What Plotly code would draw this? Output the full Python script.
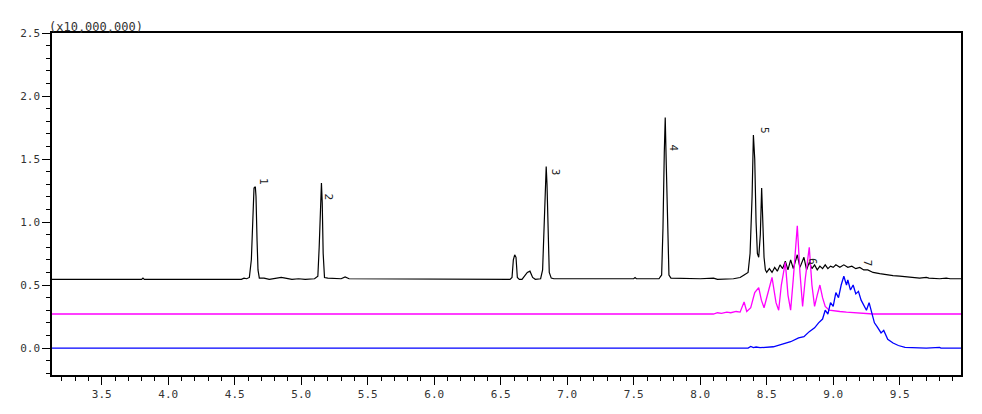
import plotly.graph_objects as go

# ---------------- data ----------------
tic_x = [3.12, 3.80, 3.81, 3.82, 4.55, 4.57, 4.59, 4.61, 4.625, 4.635, 4.645, 4.655, 4.66, 4.668, 4.675, 4.685,
         4.72, 4.76, 4.80, 4.85, 4.88, 4.93, 4.98, 5.03, 5.10, 5.125, 5.135, 5.145, 5.152, 5.158, 5.165, 5.175,
         5.20, 5.30, 5.33, 5.36, 6.57, 6.585, 6.595, 6.605, 6.615, 6.625, 6.64, 6.66, 6.70, 6.72, 6.74, 6.76,
         6.80, 6.815, 6.825, 6.835, 6.842, 6.848, 6.855, 6.865, 6.88, 6.90, 7.50, 7.51, 7.52, 7.69, 7.71, 7.72,
         7.73, 7.737, 7.745, 7.755, 7.765, 7.78, 8.00, 8.10, 8.13, 8.25, 8.30, 8.33, 8.36, 8.375, 8.39, 8.40,
         8.41, 8.42, 8.43, 8.44, 8.452, 8.462, 8.47, 8.48, 8.49, 8.50, 8.52, 8.54, 8.56, 8.58, 8.60, 8.62,
         8.64, 8.66, 8.68, 8.70, 8.73, 8.75, 8.78, 8.80, 8.82, 8.84, 8.86, 8.88, 8.90, 8.92, 8.94, 8.96,
         8.98, 9.00, 9.02, 9.05, 9.08, 9.11, 9.14, 9.17, 9.20, 9.23, 9.26, 9.30, 9.35, 9.40, 9.45, 9.50,
         9.55, 9.60, 9.65, 9.70, 9.72, 9.80, 9.85, 9.88, 9.97]
tic_y = [0.545, 0.545, 0.555, 0.545, 0.545, 0.555, 0.55, 0.56, 0.70, 1.05, 1.27, 1.28, 1.20, 0.85, 0.62, 0.555,
         0.555, 0.545, 0.55, 0.56, 0.555, 0.545, 0.55, 0.545, 0.55, 0.57, 0.80, 1.20, 1.31, 1.15, 0.75, 0.56,
         0.555, 0.55, 0.565, 0.55, 0.545, 0.56, 0.70, 0.74, 0.72, 0.56, 0.545, 0.545, 0.60, 0.61, 0.56, 0.545,
         0.55, 0.62, 0.95, 1.35, 1.44, 1.30, 0.95, 0.60, 0.555, 0.55, 0.55, 0.56, 0.55, 0.55, 0.58, 0.95,
         1.55, 1.83, 1.45, 0.90, 0.58, 0.555, 0.55, 0.555, 0.545, 0.55, 0.56, 0.58, 0.60, 0.75, 1.20, 1.69,
         1.50, 1.00, 0.75, 0.72, 0.90, 1.27, 1.00, 0.72, 0.62, 0.60, 0.63, 0.60, 0.64, 0.61, 0.66, 0.63,
         0.69, 0.62, 0.70, 0.63, 0.74, 0.64, 0.72, 0.62, 0.68, 0.63, 0.66, 0.62, 0.65, 0.63, 0.66, 0.63,
         0.65, 0.64, 0.66, 0.64, 0.66, 0.64, 0.65, 0.63, 0.64, 0.62, 0.62, 0.60, 0.59, 0.58, 0.575, 0.57,
         0.565, 0.565, 0.555, 0.56, 0.555, 0.55, 0.555, 0.55, 0.55]

pink_x = [3.12, 8.10, 8.13, 8.16, 8.20, 8.23, 8.27, 8.30, 8.33, 8.35, 8.38, 8.41, 8.44, 8.46, 8.48, 8.51,
          8.54, 8.57, 8.59, 8.61, 8.64, 8.66, 8.68, 8.70, 8.73, 8.75, 8.77, 8.79, 8.82, 8.84, 8.86, 8.88,
          8.90, 8.92, 8.94, 8.97, 9.00, 9.05, 9.10, 9.20, 9.30, 9.97]
pink_y = [0.27, 0.27, 0.28, 0.275, 0.285, 0.28, 0.29, 0.285, 0.365, 0.29, 0.32, 0.44, 0.48, 0.38, 0.32, 0.45,
          0.56, 0.36, 0.30, 0.50, 0.68, 0.42, 0.30, 0.55, 0.97, 0.60, 0.33, 0.55, 0.80, 0.50, 0.33, 0.42,
          0.50, 0.40, 0.33, 0.30, 0.295, 0.29, 0.285, 0.275, 0.27, 0.27]

blue_x = [3.12, 8.36, 8.38, 8.40, 8.42, 8.45, 8.55, 8.62, 8.68, 8.74, 8.78, 8.82, 8.86, 8.89, 8.92, 8.94,
          8.96, 8.98, 9.00, 9.02, 9.04, 9.06, 9.08, 9.10, 9.11, 9.13, 9.15, 9.17, 9.19, 9.21, 9.23, 9.25,
          9.27, 9.29, 9.31, 9.33, 9.36, 9.38, 9.41, 9.45, 9.49, 9.54, 9.70, 9.80, 9.81, 9.97]
blue_y = [0.0, 0.0, 0.012, 0.003, 0.008, 0.003, 0.01, 0.03, 0.05, 0.08, 0.09, 0.13, 0.16, 0.20, 0.23, 0.30,
          0.27, 0.36, 0.33, 0.44, 0.40, 0.50, 0.57, 0.50, 0.54, 0.46, 0.50, 0.43, 0.45, 0.38, 0.34, 0.30,
          0.36, 0.28, 0.20, 0.17, 0.12, 0.14, 0.07, 0.04, 0.02, 0.005, 0.0, 0.005, 0.0, 0.0]

peak_names = ["1", "2", "3", "4", "5", "6", "7"]
label_x = [4.72, 5.205, 6.91, 7.80, 8.488, 8.84, 9.255]
label_y = [1.317, 1.198, 1.397, 1.587, 1.730, 0.683, 0.675]

x_tick_vals = [3.5, 4.0, 4.5, 5.0, 5.5, 6.0, 6.5, 7.0, 7.5, 8.0, 8.5, 9.0, 9.5]
x_tick_text = ["3.5", "4.0", "4.5", "5.0", "5.5", "6.0", "6.5", "7.0", "7.5", "8.0", "8.5", "9.0", "9.5"]
y_tick_vals = [0.0, 0.5, 1.0, 1.5, 2.0, 2.5]
y_tick_text = ["0.0", "0.5", "1.0", "1.5", "2.0", "2.5"]
y_scale_text = "(x10,000,000)"

# ---------------- figure ----------------
FONT = "DejaVu Sans Mono"
fig = go.Figure()
fig.add_trace(go.Scatter(x=tic_x, y=tic_y, mode="lines", line=dict(color="#000000", width=1.2), showlegend=False))
fig.add_trace(go.Scatter(x=pink_x, y=pink_y, mode="lines", line=dict(color="#ff00ff", width=1.3), showlegend=False))
fig.add_trace(go.Scatter(x=blue_x, y=blue_y, mode="lines", line=dict(color="#0000ff", width=1.3), showlegend=False))

annotations = []
for name, lx, ly in zip(peak_names, label_x, label_y):
    annotations.append(dict(x=lx, y=ly, xref="x", yref="y", text=name, showarrow=False,
                            textangle=90, xanchor="center", yanchor="middle",
                            font=dict(family=FONT, size=11, color="#222222")))
annotations.append(dict(x=-0.006, y=1, xref="paper", yref="paper", text=y_scale_text, showarrow=False,
                        xanchor="left", yanchor="bottom", yshift=-3,
                        font=dict(family=FONT, size=12, color="#333333")))

# the page body adds an 8px offset; margins compensate so the plot box lands at 46..960 x 33..375
fig.update_layout(
    width=974, height=406, autosize=False,
    margin=dict(l=38, r=21, t=25, b=39),
    paper_bgcolor="white", plot_bgcolor="white",
    annotations=annotations,
    xaxis=dict(range=[3.126, 9.961], tickmode="array", tickvals=x_tick_vals, ticktext=x_tick_text,
               ticks="outside", ticklen=8, tickwidth=1, tickcolor="#000",
               minor=dict(dtick=0.1, tick0=3.0, ticks="outside", ticklen=4, tickcolor="#000", showgrid=False),
               showline=True, linecolor="#000", linewidth=1.5, mirror=True, showgrid=False, zeroline=False,
               tickfont=dict(family=FONT, size=11, color="#333333")),
    yaxis=dict(range=[-0.214, 2.5], tickmode="array", tickvals=y_tick_vals, ticktext=y_tick_text,
               ticks="outside", ticklen=8, tickwidth=1, tickcolor="#000",
               minor=dict(dtick=0.1, tick0=0.0, ticks="outside", ticklen=4, tickcolor="#000", showgrid=False),
               showline=True, linecolor="#000", linewidth=1.5, mirror=True, showgrid=False, zeroline=False,
               tickfont=dict(family=FONT, size=11, color="#333333")),
)

fig.write_html("out.html")
